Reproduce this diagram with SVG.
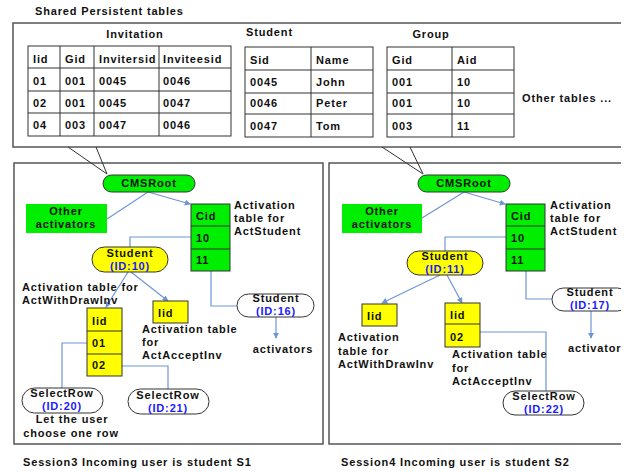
<svg xmlns="http://www.w3.org/2000/svg" width="632" height="472" viewBox="0 0 632 472">
<defs>
<style>
text{font-family:"Liberation Sans",Arial,sans-serif;font-weight:bold;font-size:11px;letter-spacing:0.85px;fill:#111}
.c{text-anchor:middle}
.id{fill:#1a1aff}
.frame{fill:none;stroke:#555;stroke-width:1.5}
.tbl{fill:#fff;stroke:#333;stroke-width:1}
.grn{fill:#00ee00;stroke:#333;stroke-width:1}
.ylw{fill:#ffff00;stroke:#333;stroke-width:1}
.pill{fill:#fff;stroke:#333;stroke-width:1}
.cn{fill:none;stroke:#6e95d6;stroke-width:1.2}
.blk{fill:none;stroke:#333;stroke-width:1}
</style>
<marker id="ah" viewBox="0 0 8 8" refX="7" refY="4" markerWidth="6" markerHeight="6" markerUnits="userSpaceOnUse" orient="auto">
<path d="M0,0 L8,4 L0,8 Z" fill="#6e95d6"/>
</marker>
<clipPath id="crop"><rect x="0" y="0" width="621" height="472"/></clipPath>
</defs>
<rect width="632" height="472" fill="#fff"/>
<g clip-path="url(#crop)">

<text x="35" y="15">Shared Persistent tables</text>
<path class="frame" d="M625,23 H13 V147 H625"/>

<g id="invitation">
<text class="c" x="135" y="38">Invitation</text>
<rect class="tbl" x="28" y="46" width="203" height="90"/>
<path class="blk" d="M28,68 H231 M28,91 H231 M28,113 H231 M60,46 V136 M94,46 V136 M159,46 V136"/>
<text x="33" y="63">Iid</text><text x="65" y="63">Gid</text><text x="99" y="63">Invitersid</text><text x="163" y="63">Inviteesid</text>
<text x="33" y="85">01</text><text x="65" y="85">001</text><text x="99" y="85">0045</text><text x="163" y="85">0046</text>
<text x="33" y="107">02</text><text x="65" y="107">001</text><text x="99" y="107">0045</text><text x="163" y="107">0047</text>
<text x="33" y="129">04</text><text x="65" y="129">003</text><text x="99" y="129">0047</text><text x="163" y="129">0046</text>
</g>

<g id="student-table">
<text x="246" y="36">Student</text>
<rect class="tbl" x="245" y="47" width="128" height="90"/>
<path class="blk" d="M245,70 H373 M245,93 H373 M245,114 H373 M311,47 V137"/>
<text x="250" y="64">Sid</text><text x="316" y="64">Name</text>
<text x="250" y="86">0045</text><text x="316" y="86">John</text>
<text x="250" y="107">0046</text><text x="316" y="107">Peter</text>
<text x="250" y="130">0047</text><text x="316" y="130">Tom</text>
</g>

<g id="group-table">
<text class="c" x="431" y="38">Group</text>
<rect class="tbl" x="387" y="47" width="127" height="90"/>
<path class="blk" d="M387,70 H514 M387,93 H514 M387,114 H514 M452,47 V137"/>
<text x="392" y="64">Gid</text><text x="457" y="64">Aid</text>
<text x="392" y="86">001</text><text x="457" y="86">10</text>
<text x="392" y="107">001</text><text x="457" y="107">10</text>
<text x="392" y="130">003</text><text x="457" y="130">11</text>
</g>

<text x="522" y="102">Other tables  ...</text>

<rect class="frame" x="14" y="163" width="309" height="281"/>
<rect class="frame" x="329" y="163" width="300" height="281"/>

<g id="connectors">
<path class="blk" d="M68,147 L107,174 M96,147 L107,174"/>
<path class="blk" d="M382,147 L423,174 M410,147 L423,174"/>

<path class="cn" d="M148,192 L190,204" marker-end="url(#ah)"/>
<path class="cn" d="M148,192 L107,219"/>
<path class="cn" d="M191,237 H130 V247"/>
<path class="cn" d="M128,272 L106,307" marker-end="url(#ah)"/>
<path class="cn" d="M131,272 L168,301" marker-end="url(#ah)"/>
<path class="cn" d="M211,271 V306 H237"/>
<path class="cn" d="M276,317 V338" marker-end="url(#ah)"/>
<path class="cn" d="M87,343 H62 V388"/>
<path class="cn" d="M122,366 H168 V389"/>

<path class="cn" d="M464,192 L505,204" marker-end="url(#ah)"/>
<path class="cn" d="M464,192 L422,218"/>
<path class="cn" d="M506,237 H445 V251"/>
<path class="cn" d="M440,275 L382,303" marker-end="url(#ah)"/>
<path class="cn" d="M447,275 L462,303" marker-end="url(#ah)"/>
<path class="cn" d="M526,271 V299 H552"/>
<path class="cn" d="M591,311 V338" marker-end="url(#ah)"/>
<path class="cn" d="M480,332 H546 V391"/>
</g>

<!-- Session 3 -->
<g id="cmsroot-s3">
<rect class="grn" x="103" y="175" width="92" height="17" rx="8.5"/>
<text class="c" x="149" y="187">CMSRoot</text>
</g>
<g id="other-activators-s3">
<rect x="26" y="204" width="81" height="29" fill="#00ee00"/>
<text class="c" x="66" y="215">Other</text>
<text class="c" x="66" y="228">activators</text>
</g>
<g id="actstudent-s3">
<rect class="grn" x="191" y="204" width="39" height="67"/>
<path class="blk" d="M191,226 H230 M191,249 H230"/>
<text x="196" y="220">Cid</text><text x="196" y="242">10</text><text x="196" y="264">11</text>
<text x="234" y="209">Activation</text>
<text x="234" y="222">table for</text>
<text x="234" y="235">ActStudent</text>
</g>
<g id="student10">
<rect class="ylw" x="92" y="247" width="76" height="25" rx="12.5"/>
<text class="c" x="130" y="257">Student</text>
<text class="c id" x="130" y="270">(ID:10)</text>
</g>
<g id="actwithdraw-s3">
<text x="22" y="291">Activation table for</text>
<text x="22" y="304">ActWithDrawInv</text>
<rect class="ylw" x="87" y="308" width="35" height="68"/>
<path class="blk" d="M87,331 H122 M87,354 H122"/>
<text x="92" y="325">Iid</text><text x="92" y="347">01</text><text x="92" y="369">02</text>
</g>
<g id="actaccept-s3">
<rect class="ylw" x="153" y="301" width="35" height="22"/>
<text x="158" y="317">Iid</text>
<text x="142" y="333">Activation table</text>
<text x="142" y="346">for</text>
<text x="142" y="359">ActAcceptInv</text>
</g>
<g id="student16">
<rect class="pill" x="237" y="294" width="77" height="23" rx="11.5"/>
<text class="c" x="276" y="302">Student</text>
<text class="c id" x="276" y="315">(ID:16)</text>
</g>
<text class="c" x="283" y="353">activators</text>
<g id="selectrow20">
<rect class="pill" x="22" y="388" width="81" height="25" rx="12.5"/>
<text class="c" x="62" y="397">SelectRow</text>
<text class="c id" x="62" y="410">(ID:20)</text>
<text class="c" x="72" y="423">Let the user</text>
<text class="c" x="71" y="437">choose one row</text>
</g>
<g id="selectrow21">
<rect class="pill" x="128" y="389" width="81" height="25" rx="12.5"/>
<text class="c" x="168" y="399">SelectRow</text>
<text class="c id" x="168" y="412">(ID:21)</text>
</g>
<text x="23" y="466">Session3 Incoming user is student S1</text>

<!-- Session 4 -->
<g id="cmsroot-s4">
<rect class="grn" x="418" y="175" width="92" height="17" rx="8.5"/>
<text class="c" x="464" y="187">CMSRoot</text>
</g>
<g id="other-activators-s4">
<rect x="342" y="204" width="80" height="29" fill="#00ee00"/>
<text class="c" x="382" y="215">Other</text>
<text class="c" x="382" y="228">activators</text>
</g>
<g id="actstudent-s4">
<rect class="grn" x="506" y="204" width="39" height="67"/>
<path class="blk" d="M506,226 H545 M506,249 H545"/>
<text x="511" y="220">Cid</text><text x="511" y="242">10</text><text x="511" y="264">11</text>
<text x="550" y="209">Activation</text>
<text x="550" y="222">table for</text>
<text x="550" y="235">ActStudent</text>
</g>
<g id="student11">
<rect class="ylw" x="407" y="251" width="76" height="24" rx="12"/>
<text class="c" x="445" y="260">Student</text>
<text class="c id" x="445" y="273">(ID:11)</text>
</g>
<g id="actwithdraw-s4">
<rect class="ylw" x="362" y="304" width="35" height="22"/>
<text x="367" y="320">Iid</text>
<text x="338" y="341">Activation</text>
<text x="338" y="355">table for</text>
<text x="338" y="368">ActWithDrawInv</text>
</g>
<g id="actaccept-s4">
<rect class="ylw" x="445" y="303" width="35" height="44"/>
<path class="blk" d="M445,324 H480"/>
<text x="450" y="319">Iid</text><text x="450" y="341">02</text>
<text x="452" y="358">Activation table</text>
<text x="452" y="372">for</text>
<text x="452" y="385">ActAcceptInv</text>
</g>
<g id="student17">
<rect class="pill" x="552" y="288" width="77" height="23" rx="11.5"/>
<text class="c" x="590" y="296">Student</text>
<text class="c id" x="590" y="309">(ID:17)</text>
</g>
<text x="568" y="352">activators</text>
<g id="selectrow22">
<rect class="pill" x="503" y="391" width="81" height="24" rx="12"/>
<text class="c" x="544" y="400">SelectRow</text>
<text class="c id" x="544" y="413">(ID:22)</text>
</g>
<text x="341" y="466">Session4 Incoming user is student S2</text>
</g>
</svg>
